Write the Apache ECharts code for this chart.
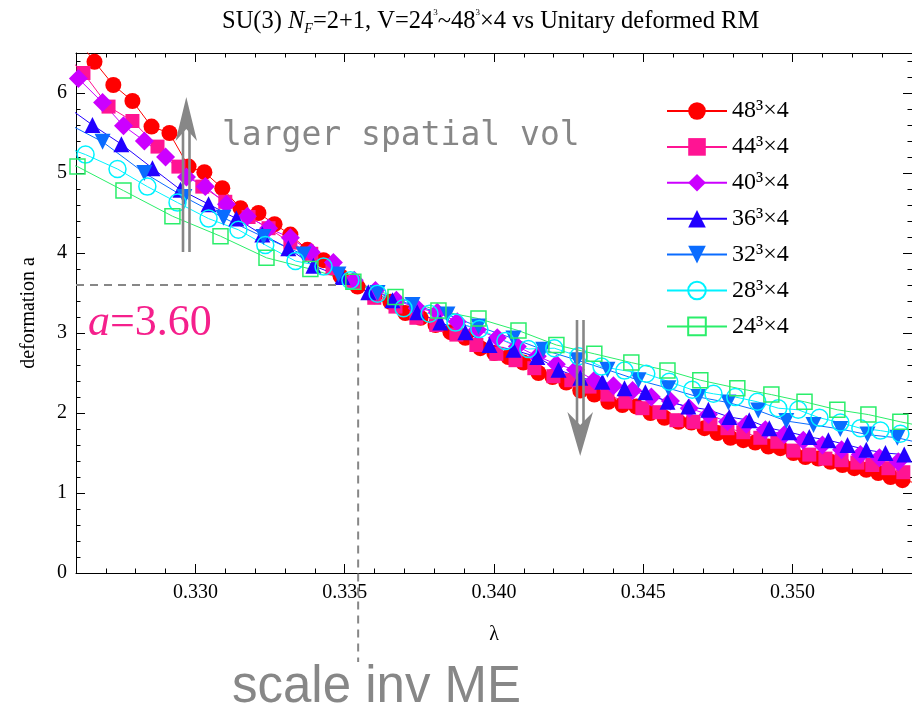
<!DOCTYPE html>
<html><head><meta charset="utf-8">
<script src="https://cdn.jsdelivr.net/npm/echarts@6/dist/echarts.min.js"></script>
<style>html,body{margin:0;padding:0;background:#fff}#c{width:912px;height:710px}</style>
</head><body><div id="c"></div>
<script>
// ---- data (λ, deformation a) ----
const lam48=[0.32601,0.32662,0.32725,0.32789,0.32853,0.32913,0.32977,0.33030,0.33090,0.33151,0.33211,0.33265,0.33318,0.33375,0.33429,0.33486,0.33543,0.33599,0.33653,0.33703,0.33754,0.33804,0.33854,0.33904,0.33954,0.34001,0.34048,0.34098,0.34149,0.34196,0.34242,0.34289,0.34336,0.34383,0.34430,0.34477,0.34524,0.34571,0.34618,0.34661,0.34705,0.34748,0.34792,0.34835,0.34875,0.34919,0.34959,0.35003,0.35043,0.35086,0.35127,0.35167,0.35207,0.35247,0.35287,0.35328,0.35368,0.35408];
const a48=[6.69,6.39,6.10,5.90,5.58,5.50,5.08,5.01,4.81,4.56,4.50,4.36,4.23,4.04,3.91,3.71,3.58,3.46,3.39,3.25,3.19,3.10,3.01,2.94,2.81,2.75,2.70,2.63,2.50,2.45,2.38,2.28,2.23,2.14,2.10,2.08,2.00,1.94,1.89,1.88,1.81,1.75,1.69,1.66,1.63,1.58,1.56,1.50,1.45,1.43,1.39,1.35,1.31,1.29,1.25,1.20,1.16,1.13];
const lam44=[0.32541,0.32625,0.32709,0.32789,0.32873,0.32943,0.33023,0.33100,0.33178,0.33245,0.33318,0.33388,0.33459,0.33529,0.33599,0.33670,0.33740,0.33807,0.33874,0.33941,0.34008,0.34072,0.34135,0.34199,0.34259,0.34320,0.34380,0.34440,0.34497,0.34554,0.34611,0.34668,0.34725,0.34782,0.34835,0.34892,0.34949,0.35003,0.35056,0.35110,0.35164,0.35217,0.35267,0.35321,0.35371];
const a44=[6.56,6.25,5.83,5.65,5.33,5.08,4.83,4.64,4.45,4.31,4.13,3.99,3.81,3.63,3.44,3.33,3.19,3.10,2.98,2.85,2.74,2.66,2.56,2.46,2.41,2.33,2.23,2.14,2.06,2.01,1.91,1.89,1.86,1.81,1.76,1.69,1.64,1.53,1.48,1.43,1.41,1.38,1.35,1.31,1.26];
const lam40=[0.32528,0.32608,0.32689,0.32759,0.32829,0.32900,0.32970,0.33033,0.33104,0.33174,0.33245,0.33318,0.33388,0.33462,0.33532,0.33603,0.33673,0.33743,0.33810,0.33877,0.33944,0.34011,0.34078,0.34145,0.34209,0.34273,0.34336,0.34400,0.34464,0.34527,0.34591,0.34654,0.34718,0.34782,0.34845,0.34909,0.34973,0.35036,0.35100,0.35164,0.35227,0.35291,0.35354];
const a40=[6.48,6.18,5.88,5.59,5.40,5.20,4.95,4.83,4.61,4.46,4.31,4.19,4.01,3.88,3.66,3.53,3.41,3.31,3.26,3.14,3.04,2.94,2.83,2.71,2.61,2.54,2.41,2.34,2.28,2.20,2.15,2.06,1.98,1.89,1.86,1.79,1.73,1.66,1.60,1.54,1.48,1.44,1.39];
const lam36=[0.32558,0.32655,0.32752,0.32856,0.32950,0.33044,0.33137,0.33224,0.33311,0.33395,0.33492,0.33579,0.33660,0.33743,0.33820,0.33904,0.33985,0.34065,0.34145,0.34216,0.34289,0.34363,0.34437,0.34507,0.34581,0.34651,0.34718,0.34788,0.34855,0.34922,0.34989,0.35056,0.35120,0.35184,0.35247,0.35311,0.35374];
const a36=[5.86,5.60,5.36,5.06,4.79,4.61,4.43,4.23,4.06,3.84,3.70,3.51,3.41,3.26,3.13,3.01,2.85,2.79,2.70,2.54,2.44,2.39,2.31,2.26,2.14,2.08,2.04,1.95,1.91,1.81,1.76,1.70,1.66,1.60,1.54,1.50,1.48];
const lam32=[0.32555,0.32689,0.32829,0.32963,0.33094,0.33228,0.33362,0.33479,0.33610,0.33727,0.33844,0.33948,0.34065,0.34165,0.34279,0.34380,0.34484,0.34584,0.34685,0.34785,0.34885,0.34979,0.35070,0.35160,0.35251,0.35351,0.35445];
const a32=[5.65,5.39,5.00,4.70,4.44,4.20,3.98,3.73,3.50,3.35,3.23,3.08,2.93,2.79,2.66,2.54,2.41,2.31,2.20,2.13,2.03,1.90,1.85,1.80,1.73,1.69,1.61];
const lam28=[0.32524,0.32632,0.32739,0.32839,0.32940,0.33044,0.33144,0.33234,0.33335,0.33429,0.33519,0.33610,0.33697,0.33784,0.33871,0.33951,0.34038,0.34115,0.34202,0.34283,0.34360,0.34437,0.34510,0.34587,0.34664,0.34735,0.34808,0.34882,0.34952,0.35019,0.35090,0.35160,0.35227,0.35294,0.35361];
const a28=[5.38,5.23,5.05,4.83,4.63,4.43,4.29,4.10,3.90,3.83,3.66,3.49,3.31,3.24,3.13,3.05,2.90,2.80,2.81,2.71,2.58,2.53,2.49,2.39,2.29,2.24,2.20,2.14,2.06,2.04,1.94,1.88,1.81,1.78,1.74];
const lam24=[0.32441,0.32605,0.32759,0.32923,0.33084,0.33238,0.33385,0.33529,0.33670,0.33814,0.33948,0.34082,0.34209,0.34336,0.34460,0.34581,0.34691,0.34815,0.34929,0.35040,0.35150,0.35254,0.35361,0.35468];
const a24=[5.26,5.08,4.78,4.46,4.21,3.94,3.80,3.64,3.45,3.28,3.18,3.03,2.85,2.74,2.63,2.53,2.41,2.31,2.23,2.14,2.04,1.98,1.89,1.81];

const seriesNames=['48³×4','44³×4','40³×4','36³×4','32³×4','28³×4','24³×4'];
const xMajor=[0.330,0.335,0.340,0.345,0.350];
const yMajor=[0,1,2,3,4,5,6];
const xRange=[0.326,0.354];
const yRange=[0,6.5];
const lamCrit=0.33545, aCrit=3.60;

const xMinor=[]; for(let i=326;i<=354;i++) xMinor.push(i/1000);
const yMinor=[]; for(let i=0;i<=32;i++) yMinor.push(i/5);

const SERIF='"Liberation Serif","Times New Roman",serif';
const pair=(l,a)=>l.map((v,i)=>[v,a[i]]);

const chart=echarts.init(document.getElementById('c'),null,{renderer:'canvas'});
const gridPos={left:76,right:0,top:53,bottom:137};

function xa(grid,pos,major,label){
  const o={type:'value',gridIndex:grid,position:pos,min:xRange[0],max:xRange[1],
    axisLine:{show:grid===0,onZero:false,lineStyle:{color:'#000',width:1}},
    axisTick:{show:true,inside:true,length:major?9:4.5,customValues:major?xMajor:xMinor,lineStyle:{color:'#000',width:1}},
    axisLabel:{show:!!label},splitLine:{show:false}};
  if(label){
    o.axisLabel={show:true,customValues:xMajor,formatter:v=>(+v).toFixed(3),fontFamily:SERIF,fontSize:20,color:'#000',margin:10};
    o.name='λ';o.nameLocation='middle';o.nameGap=52;o.nameTextStyle={fontFamily:SERIF,fontSize:20,color:'#000'};
  }
  return o;
}
function ya(grid,pos,major,label){
  const o={type:'value',gridIndex:grid,position:pos,min:yRange[0],max:yRange[1],
    axisLine:{show:grid===0,onZero:false,lineStyle:{color:'#000',width:1}},
    axisTick:{show:true,inside:true,length:major?9:4.5,customValues:major?yMajor:yMinor,lineStyle:{color:'#000',width:1}},
    axisLabel:{show:!!label},splitLine:{show:false}};
  if(label){
    o.axisLabel={show:true,customValues:yMajor,fontFamily:SERIF,fontSize:20,color:'#000',margin:9};
    o.name='deformation a';o.nameLocation='middle';o.nameGap=37;o.nameTextStyle={fontFamily:SERIF,fontSize:20,color:'#000'};
  }
  return o;
}

const styles=[
  {c:'#ff0000',sym:'circle',size:16},
  {c:'#ff1493',sym:'rect',size:14},
  {c:'#cc00ff',sym:'diamond',size:19},
  {c:'#2200ff',sym:'triangle',size:16},
  {c:'#0a6cff',sym:'triangle',size:16,rot:180},
  {c:'#00f2ff',sym:'circle',size:17,hollow:true},
  {c:'#2aee6a',sym:'rect',size:15,hollow:true}
];
const dataSets=[pair(lam48,a48),pair(lam44,a44),pair(lam40,a40),pair(lam36,a36),pair(lam32,a32),pair(lam28,a28),pair(lam24,a24)];

const series=dataSets.map((d,i)=>{
  const s=styles[i];
  return {
    name:seriesNames[i],type:'line',xAxisIndex:0,yAxisIndex:0,data:d,clip:true,
    symbol:s.sym,symbolSize:s.size,symbolRotate:s.rot||0,showSymbol:true,showAllSymbol:true,
    color:s.c,
    lineStyle:{color:s.c,width:1},
    itemStyle:s.hollow?{color:'rgba(255,255,255,0)',borderColor:s.c,borderWidth:1.5}:{color:s.c},
    emphasis:{disabled:true},animation:false
  };
});

const TW={fontWeight:'normal',color:'#000',fontFamily:SERIF};
chart.setOption({
  animation:false,
  backgroundColor:'#fff',
  title:{
    text:'{r|SU(3) }{i|N}{s|F}{r|=2+1, V=24}{p|3}{r|~48}{p|3}{r|×4 vs Unitary deformed RM}',
    left:222,top:8,padding:0,
    textStyle:{fontWeight:'normal',rich:{
      r:Object.assign({fontSize:24.5,lineHeight:28},TW),
      i:Object.assign({fontSize:24.5,fontStyle:'italic',lineHeight:28},TW),
      s:Object.assign({fontSize:14,fontStyle:'italic',verticalAlign:'bottom',lineHeight:20},TW),
      p:Object.assign({fontSize:9,verticalAlign:'top',lineHeight:20},TW)
    }}
  },
  legend:{
    orient:'vertical',left:661,top:94,itemWidth:60,itemHeight:22,itemGap:11.9,
    data:seriesNames,textStyle:{fontFamily:SERIF,fontSize:24,color:'#000'},selectedMode:false
  },
  grid:[Object.assign({},gridPos),Object.assign({},gridPos)],
  xAxis:[xa(0,'bottom',true,true),xa(0,'top',true,false),xa(1,'bottom',false,false),xa(1,'top',false,false)],
  yAxis:[ya(0,'left',true,true),ya(0,'right',true,false),ya(1,'left',false,false),ya(1,'right',false,false)],
  series:series
});

const p0=chart.convertToPixel({gridIndex:0},[xRange[0],aCrit]);
const p1=chart.convertToPixel({gridIndex:0},[0.33486,aCrit]);
const p2=chart.convertToPixel({gridIndex:0},[lamCrit,3.32]);
const GRAY='#878787';
const dash={stroke:GRAY,lineWidth:2,lineDash:[8,6]};
chart.setOption({graphic:[
  {type:'line',z:100,shape:{x1:p0[0],y1:p0[1],x2:p1[0],y2:p1[1]},style:dash},
  {type:'line',z:100,shape:{x1:p2[0],y1:p2[1],x2:p2[0],y2:662},style:dash},
  // up arrow
  {type:'line',z:100,shape:{x1:183,y1:128,x2:183,y2:252},style:{stroke:GRAY,lineWidth:2.6}},
  {type:'line',z:100,shape:{x1:189.5,y1:128,x2:189.5,y2:252},style:{stroke:GRAY,lineWidth:2.6}},
  {type:'polygon',z:100,shape:{points:[[186.3,97],[197,141],[186.3,129],[175.6,141]]},style:{fill:GRAY}},
  // down arrow
  {type:'line',z:100,shape:{x1:577,y1:320,x2:577,y2:425},style:{stroke:GRAY,lineWidth:2.6}},
  {type:'line',z:100,shape:{x1:583.5,y1:320,x2:583.5,y2:425},style:{stroke:GRAY,lineWidth:2.6}},
  {type:'polygon',z:100,shape:{points:[[580.2,456],[593,412],[580.2,425],[567.4,412]]},style:{fill:GRAY}},
  // texts
  {type:'text',z:100,x:222,y:136,style:{text:'larger spatial vol',fontFamily:'"DejaVu Sans Mono",monospace',fontSize:33,fill:GRAY,align:'left',verticalAlign:'middle'}},
  {type:'text',z:100,x:88,y:323,style:{text:'{i|a}{r|=3.60}',align:'left',verticalAlign:'middle',
    rich:{i:{fontFamily:SERIF,fontStyle:'italic',fontSize:44,fill:'#f5208c'},r:{fontFamily:SERIF,fontSize:44,fill:'#f5208c'}}}},
  {type:'text',z:100,x:232,y:688,style:{text:'scale inv ME',fontFamily:'"Liberation Sans",Arial,sans-serif',fontSize:51,fill:GRAY,align:'left',verticalAlign:'middle'}}
]});
</script>
</body></html>
